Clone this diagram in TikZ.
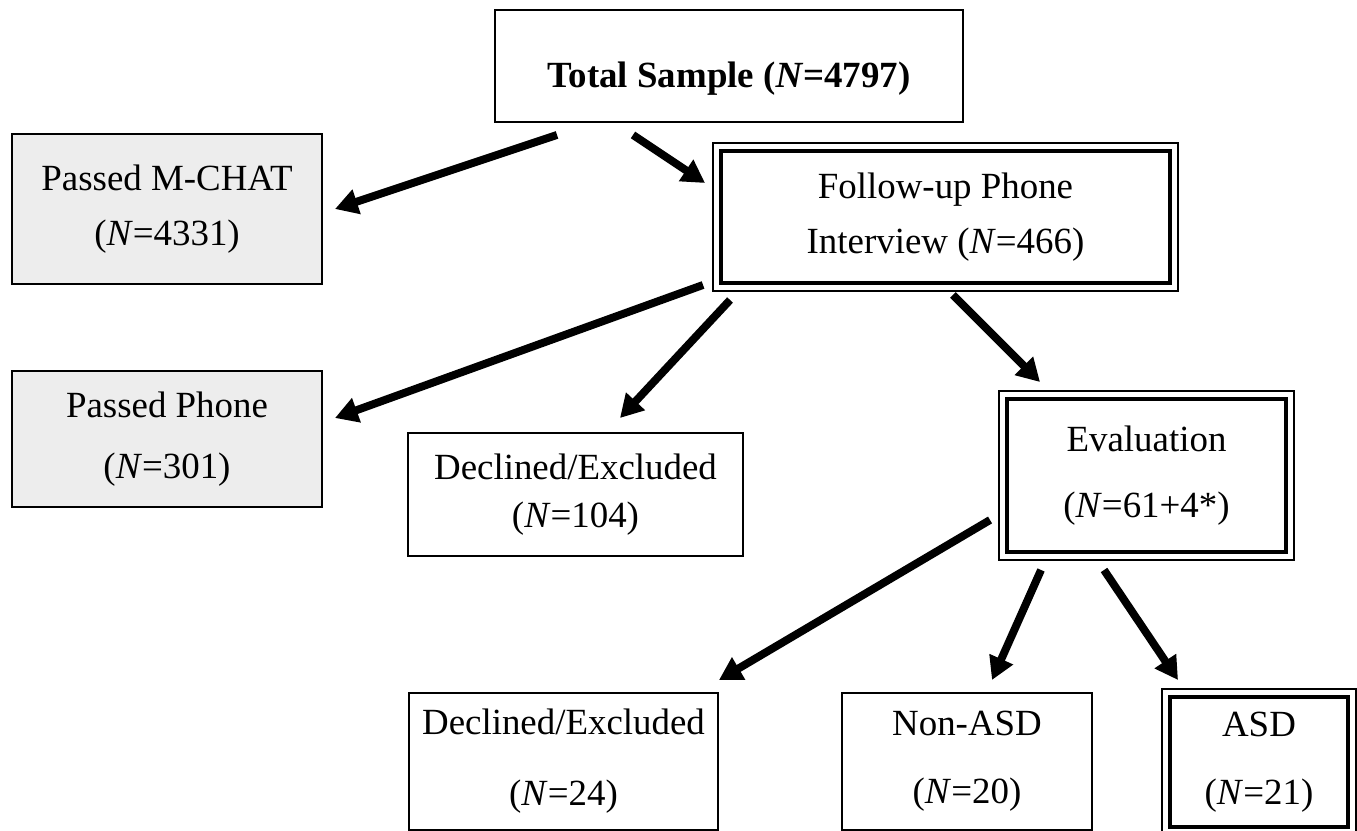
\documentclass[tikz,border=0pt]{standalone}
\usepackage{fontspec}
\setmainfont{Liberation Serif}
\usetikzlibrary{arrows.meta}
\newcommand{\nn}[1]{(\textit{N}=#1)}

\begin{document}
\begin{tikzpicture}[x=0.02cm, y=-0.02cm,
  box/.style={draw, line width=0.8pt, align=center, inner sep=0pt, outer sep=0pt,
    font=\fontsize{21}{25}\selectfont},
  passbox/.style={box, fill=gray!14},
  keybox/.style={box, fill=white, line width=2.6pt,
    preaction={draw, line width=9.8pt},
    preaction={draw=white, line width=8.2pt}},
  arr/.style={-{Triangle[length=13pt, width=14pt]}, line width=4.5pt}]
  \useasboundingbox (0,0) rectangle (1357,831);

  % boxes
  \node[box, text height=27pt, text depth=2pt, minimum width=9.36cm, minimum height=2.24cm]
    (tot) at (729,66) {\textbf{Total Sample (\textit{N}=4797)}};
  \node[passbox, minimum width=6.2cm, minimum height=3cm]
    (mchat) at (167,209) {Passed M-CHAT\\[6.7pt]\nn{4331}};
  \node[keybox, minimum width=8.98cm, minimum height=2.64cm]
    (fup) at (945.5,217) {Follow-up Phone\\[6.2pt]Interview \nn{466}};
  \node[passbox, minimum width=6.2cm, minimum height=2.72cm]
    (phone) at (167,439) {Passed Phone\\[9.6pt]\nn{301}};
  \node[box, minimum width=6.7cm, minimum height=2.46cm]
    (dec1) at (575.5,494.5) {Declined/Excluded\\[2.2pt]\nn{104}};
  \node[keybox, minimum width=5.58cm, minimum height=3.06cm]
    (eval) at (1146.5,475.5) {Evaluation\\[12.4pt]\nn{61+4*}};
  \node[box, minimum width=6.18cm, minimum height=2.74cm]
    (dec2) at (563.5,761.5) {Declined/Excluded\\[15.3pt]\nn{24}};
  \node[box, minimum width=5cm, minimum height=2.74cm]
    (nonasd) at (967,761.5) {Non-ASD\\[13.6pt]\nn{20}};
  \node[keybox, minimum width=3.56cm, minimum height=2.6cm]
    (asd) at (1259,762) {ASD\\[13.6pt]\nn{21}};

  % arrows
  \draw[arr] ([shift={(-172,13)}]tot.south) -- ([shift={(13,0)}]mchat.east);
  \draw[arr] ([shift={(-96,13)}]tot.south) -- ([shift={(-16,-34)}]fup.west);
  \draw[arr] ([shift={(-18,2)}]fup.south west) -- ([shift={(13,-21)}]phone.east);
  \draw[arr] ([shift={(9,17)}]fup.south west) -- ([shift={(44.5,-15)}]dec1.north);
  \draw[arr] ([shift={(7.5,12)}]fup.south) -- ([shift={(33,-17)}]eval.north west);
  \draw[arr] ([shift={(-17,44.5)}]eval.west) -- ([shift={(1,-13)}]dec2.north east);
  \draw[arr] ([shift={(34,18)}]eval.south west) -- ([shift={(25,-13)}]nonasd.north);
  \draw[arr] ([shift={(97,18)}]eval.south west) -- ([shift={(8,-17)}]asd.north west);
\end{tikzpicture}
\end{document}
